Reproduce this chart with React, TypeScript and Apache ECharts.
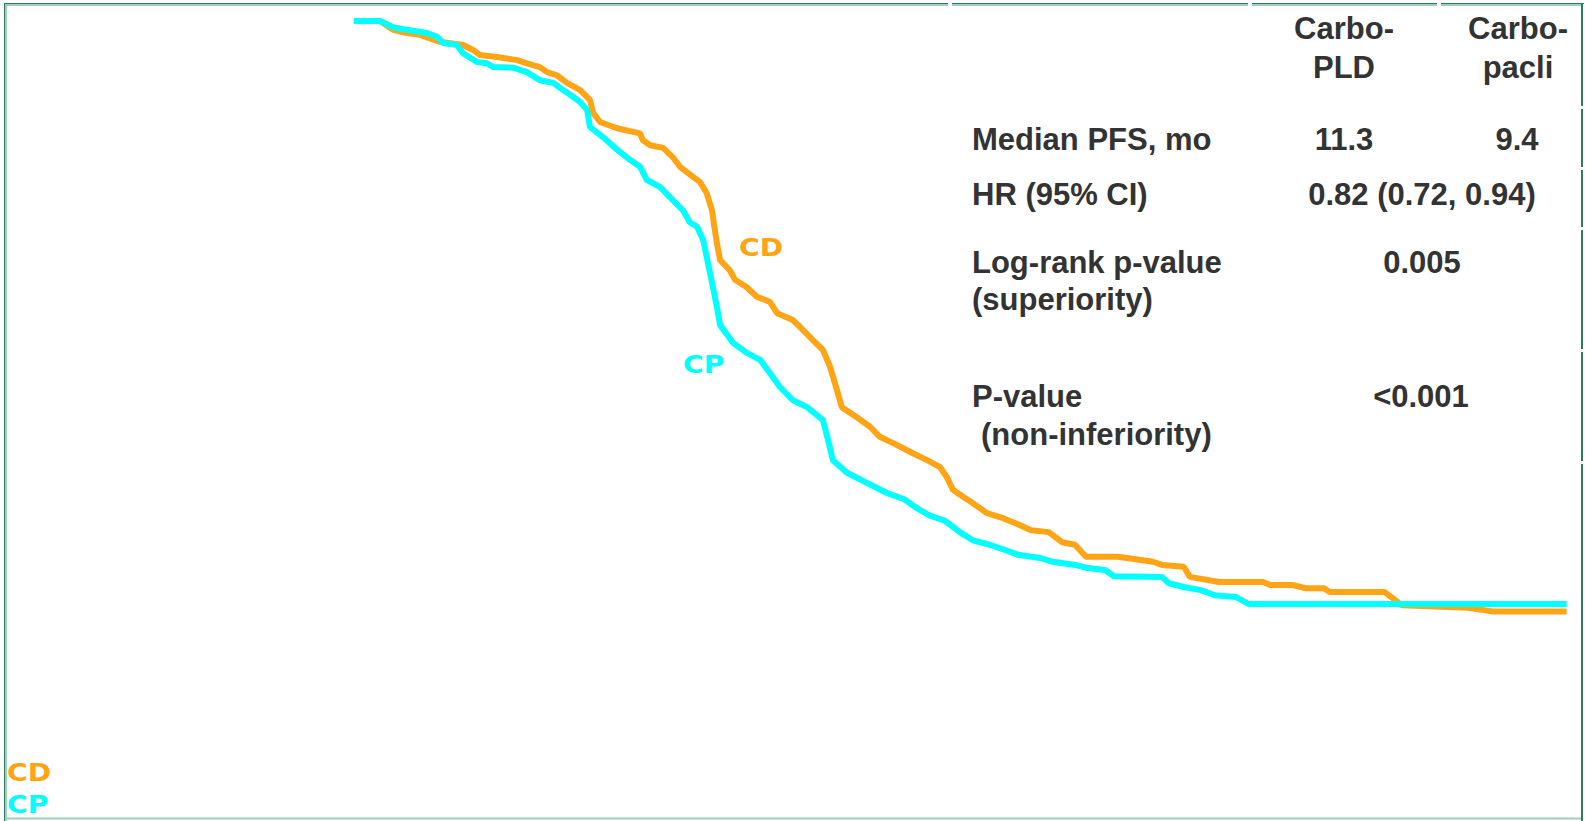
import React, { useEffect, useRef } from "react";
import * as echarts from "echarts";

// Kaplan-Meier PFS curves (months since randomization, proportion progression-free)
const cdMonths = [0.12, 0.77, 1.09, 1.43, 1.76, 2.25, 2.82, 3.07, 3.24, 3.66, 4.16, 4.4, 4.72, 4.9, 5.14, 5.39, 5.71, 5.96, 6.04, 6.21, 6.63, 7.2, 7.27, 7.45, 7.77, 8.01, 8.19, 8.51, 8.68, 8.85, 8.98, 9.03, 9.1, 9.18, 9.42, 9.55, 9.84, 10.09, 10.41, 10.59, 10.98, 11.16, 11.48, 11.72, 11.9, 12.07, 12.19, 12.56, 12.89, 13.13, 13.46, 13.95, 14.3, 14.62, 14.79, 14.94, 15.19, 15.43, 15.78, 16.18, 16.6, 16.87, 17.31, 17.64, 17.96, 18.23, 19.02, 19.89, 20.11, 20.65, 20.8, 21.52, 22.61, 22.8, 23.35, 23.67, 24.12, 24.26, 25.62, 26.05, 27.68, 28.32, 30.12];
const cdSurv = [1.0, 1.0, 0.986, 0.981, 0.978, 0.967, 0.962, 0.954, 0.946, 0.943, 0.938, 0.933, 0.927, 0.919, 0.914, 0.902, 0.891, 0.875, 0.854, 0.84, 0.83, 0.822, 0.811, 0.803, 0.799, 0.784, 0.769, 0.753, 0.745, 0.727, 0.7, 0.677, 0.648, 0.621, 0.605, 0.59, 0.578, 0.563, 0.555, 0.537, 0.526, 0.515, 0.494, 0.479, 0.452, 0.415, 0.388, 0.372, 0.357, 0.341, 0.331, 0.315, 0.304, 0.293, 0.277, 0.257, 0.246, 0.236, 0.22, 0.212, 0.201, 0.193, 0.19, 0.174, 0.17, 0.151, 0.151, 0.143, 0.138, 0.135, 0.119, 0.111, 0.111, 0.106, 0.106, 0.101, 0.101, 0.095, 0.095, 0.074, 0.07, 0.064, 0.064];

const cpMonths = [0.12, 0.77, 1.09, 1.43, 1.93, 2.18, 2.33, 2.67, 2.82, 3.17, 3.41, 3.56, 4.06, 4.4, 4.72, 5.05, 5.29, 5.54, 5.71, 5.89, 5.96, 6.28, 6.63, 6.95, 7.2, 7.37, 7.69, 8.01, 8.26, 8.43, 8.61, 8.76, 8.93, 9.1, 9.18, 9.5, 9.84, 10.17, 10.41, 10.66, 10.98, 11.33, 11.72, 11.85, 11.97, 12.32, 12.81, 13.31, 13.73, 14.07, 14.37, 14.74, 15.11, 15.43, 15.85, 16.3, 16.55, 17.09, 17.41, 17.96, 18.28, 18.7, 18.92, 20.11, 20.28, 20.65, 21.07, 21.42, 21.94, 22.26, 30.12];
const cpSurv = [1.0, 1.0, 0.99, 0.986, 0.981, 0.975, 0.965, 0.962, 0.949, 0.935, 0.933, 0.927, 0.926, 0.919, 0.906, 0.902, 0.891, 0.88, 0.872, 0.859, 0.832, 0.816, 0.796, 0.78, 0.769, 0.748, 0.737, 0.716, 0.7, 0.681, 0.674, 0.653, 0.601, 0.547, 0.518, 0.49, 0.474, 0.463, 0.442, 0.42, 0.399, 0.388, 0.368, 0.336, 0.304, 0.284, 0.268, 0.252, 0.242, 0.227, 0.216, 0.208, 0.19, 0.177, 0.17, 0.16, 0.154, 0.149, 0.143, 0.138, 0.133, 0.13, 0.12, 0.119, 0.109, 0.103, 0.098, 0.09, 0.087, 0.076, 0.076];

const armCodes = ["CD", "CP"];
const armColors = ["#FFA414", "#00FFFF"];

const headerCol1 = ["Carbo-", "PLD"];
const headerCol2 = ["Carbo-", "pacli"];
const rowLabels = ["Median PFS, mo", "HR (95% CI)", "Log-rank p-value", "(superiority)", "P-value", "(non-inferiority)"];
const medianValues = ["11.3", "9.4"];
const hrText = "0.82 (0.72, 0.94)";
const superiorityP = "0.005";
const nonInferiorityP = "<0.001";

const zip = (xs: number[], ys: number[]) => xs.map((x, i) => [x, ys[i]]);

export default function App() {
  const ref = useRef<HTMLDivElement>(null);
  useEffect(() => {
    if (!ref.current) return;
    const chart = echarts.init(ref.current, undefined, { renderer: "svg" });
    const txtColor = "#333333";
    const tableFont = 'bold 31px "Liberation Sans", Arial, Helvetica, sans-serif';
    const armFont = 'bold 25px "DejaVu Sans", Verdana, sans-serif';
    const t = (text: string, x: number, y: number, align: string, font = tableFont, fill = txtColor, scaleX = 1) => ({
      type: "text",
      x,
      y,
      scaleX,
      silent: true,
      style: { text, fill, font, textAlign: align, textVerticalAlign: "middle" },
    });
    const dark = "#2E7B5C";
    const light = "#9FD0B8";
    const hl = (x1: number, y1: number, x2: number, y2: number, stroke: string, w: number) => ({
      type: "line",
      silent: true,
      shape: { x1, y1, x2, y2 },
      style: { stroke, lineWidth: w },
    });
    const graphics: any[] = [
      // frame
      hl(4.5, 3, 4.5, 821, dark, 1),
      hl(6, 3, 6, 821, light, 2),
      hl(4, 3.5, 948, 3.5, dark, 1),
      hl(952, 3.5, 1248, 3.5, dark, 1),
      hl(1252, 3.5, 1437, 3.5, dark, 1),
      hl(1441, 3.5, 1584, 3.5, dark, 1),
      hl(5, 5, 948, 5, light, 2),
      hl(952, 5, 1248, 5, light, 2),
      hl(1252, 5, 1437, 5, light, 2),
      hl(1441, 5, 1581, 5, light, 2),
      hl(5, 818.5, 1582, 818.5, light, 2),
      hl(1582, 3, 1582, 106, dark, 2),
      hl(1582, 109, 1582, 167, dark, 2),
      hl(1582, 170, 1582, 227, dark, 2),
      hl(1582, 230, 1582, 349, dark, 2),
      hl(1582, 352, 1582, 461, dark, 2),
      hl(1582, 464, 1582, 821, dark, 2),
      // curve labels
      t(armCodes[0], 739, 247.5, "left", armFont, armColors[0], 1.13),
      t(armCodes[1], 683, 364, "left", armFont, armColors[1], 1.13),
      t(armCodes[0], 7, 772.5, "left", armFont, armColors[0], 1.13),
      t(armCodes[1], 7, 804, "left", armFont, armColors[1], 1.13),
      // table header
      t(headerCol1[0], 1344, 28.5, "center"),
      t(headerCol1[1], 1344, 67.5, "center"),
      t(headerCol2[0], 1518, 28.5, "center"),
      t(headerCol2[1], 1518, 67.5, "center"),
      // rows
      t(rowLabels[0], 972, 139, "left"),
      t(medianValues[0], 1344, 139, "center"),
      t(medianValues[1], 1517, 139, "center"),
      t(rowLabels[1], 972, 194, "left"),
      t(hrText, 1422, 194, "center"),
      t(rowLabels[2], 972, 262, "left"),
      t(superiorityP, 1422, 262, "center"),
      t(rowLabels[3], 972, 299, "left"),
      t(rowLabels[4], 972, 396, "left"),
      t(nonInferiorityP, 1421, 396, "center"),
      t(rowLabels[5], 981, 434, "left"),
    ];
    chart.setOption({
      animation: false,
      backgroundColor: "#ffffff",
      grid: { left: 349, right: 3, top: 21, bottom: 169 },
      xAxis: { type: "value", min: 0, max: 30.5, show: false },
      yAxis: { type: "value", min: 0, max: 1, show: false },
      series: [
        {
          name: armCodes[0],
          type: "line",
          data: zip(cdMonths, cdSurv),
          showSymbol: false,
          lineStyle: { color: armColors[0], width: 6 },
          itemStyle: { color: armColors[0] },
          z: 2,
        },
        {
          name: armCodes[1],
          type: "line",
          data: zip(cpMonths, cpSurv),
          showSymbol: false,
          lineStyle: { color: armColors[1], width: 6 },
          itemStyle: { color: armColors[1] },
          z: 3,
        },
      ],
      graphic: graphics,
    });
    return () => chart.dispose();
  }, []);
  return (
    <div
      ref={ref}
      style={{ position: "absolute", left: 0, top: 0, width: 1585, height: 821, background: "#fff" }}
    />
  );
}
